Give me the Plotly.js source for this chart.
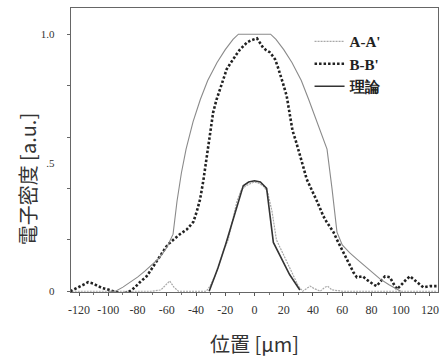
<!DOCTYPE html>
<html>
<head>
<meta charset="utf-8">
<script src="https://cdn.plot.ly/plotly-3.0.1.min.js"></script>
<style>html,body{margin:0;padding:0;background:#fff;}#chart{width:442px;height:362px;}</style>
</head>
<body>
<div id="chart"></div>
<script>
// B-B' measured (dotted)
const bbX = [-126,-122,-119,-116,-113.8,-110.4,-107,-104,-101,-98,-95.5,-93,-90.9,-88.5,-86.3,-84,-81.8,-78.4,-76,-73.8,-71.5,-69.2,-67,-64.6,-62.3,-60,-58,-55.7,-53.4,-51,-48.7,-46.4,-44,-41.8,-39.5,-37.2,-35,-32.7,-30.5,-28.3,-26,-23.6,-21.3,-19,-16.8,-14.7,-12.3,-10,-7.5,-5.1,-2.5,0,1.7,3.8,5.8,8,10.4,12.2,14,15.7,17.4,19.7,22,24,26,28,30,32.8,35.7,38,40.2,42.5,44.8,47,49.3,51.6,54,56.2,58.5,60.8,63.2,65.5,67.7,70,72,74,76.5,79,81.2,83.5,86.3,89.2,91,92.6,95,97.4,99.6,101.8,104,106.4,108.7,111,113.3,115.5,118,120,122.3,124.5];
const bbY = [0.0,0.01,0.02,0.028,0.035,0.03,0.02,0.012,0.008,0.002,-0.004,-0.007,-0.01,-0.007,-0.004,0.005,0.015,0.035,0.046,0.058,0.077,0.097,0.116,0.136,0.156,0.176,0.188,0.2,0.211,0.222,0.231,0.24,0.255,0.27,0.31,0.358,0.43,0.52,0.61,0.695,0.745,0.786,0.826,0.864,0.884,0.903,0.922,0.94,0.955,0.968,0.976,0.981,0.984,0.966,0.948,0.938,0.93,0.917,0.903,0.877,0.85,0.805,0.76,0.696,0.625,0.59,0.553,0.495,0.436,0.41,0.384,0.353,0.323,0.293,0.27,0.25,0.23,0.203,0.176,0.15,0.125,0.099,0.073,0.054,0.056,0.058,0.046,0.035,0.027,0.02,0.04,0.058,0.056,0.054,0.03,0.008,0.02,0.035,0.047,0.058,0.046,0.035,0.025,0.015,0.018,0.02,0.02,0.02];

// A-A' measured (light gray)
const aaX = [-125,-70,-64,-60,-58,-55,-52,-40,-33,-30.4,-27,-24,-21,-18,-15,-12,-9,-6,-3,0,3,6,9,12,15,18,21,24,27,30,33,36,38,41,45,48,50,53,60,125];
const aaY = [0,0,0.005,0.03,0.04,0.015,0,0,0,0.02,0.06,0.11,0.16,0.2,0.27,0.35,0.395,0.41,0.418,0.425,0.42,0.41,0.385,0.31,0.2,0.165,0.125,0.09,0.055,0.02,0.0,0.01,0.02,0.01,0.0,0.015,0.02,0.005,0,0];

// Theory, narrow profile
const thNX = [-31,-25,-19.7,-14,-10,-7.7,-4,0,4,8.3,12.9,18,24,31];
const thNY = [0,0.09,0.183,0.29,0.37,0.41,0.425,0.43,0.425,0.4,0.19,0.13,0.065,0.005];

// Theory, wide profile
const thWX = [-100,-95,-90,-85,-80,-75,-70,-65,-60,-55.7,-53,-50,-46.8,-42,-37,-32,-25.6,-20,-14.7,-11,0,11,14.7,20,25.6,32,37,42,46,49.6,53,56.4,60,65,70,75,80,86,92,97,100];
const thWY = [0,0,0.016,0.035,0.055,0.078,0.103,0.13,0.17,0.222,0.35,0.46,0.553,0.66,0.747,0.82,0.89,0.94,0.98,1.0,1.0,1.0,0.98,0.94,0.89,0.82,0.747,0.67,0.6,0.553,0.4,0.23,0.18,0.15,0.125,0.1,0.075,0.047,0.025,0.008,0];

const xTicks = [-120,-100,-80,-60,-40,-20,0,20,40,60,80,100,120];
const xTickText = ['-120','-100','-80','-60','-40','-20','0','20','40','60','80','100','120'];
const yTicks = [0,0.5,1.0];
const yTickText = ['0','.5','1.0'];

const serif = '"Liberation Serif", "DejaVu Serif", serif';
const cjk = '"Noto Sans CJK JP", "Noto Sans CJK SC", sans-serif';

const traces = [
  {x: aaX, y: aaY, mode: 'lines', name: "<b>A-A'</b>", line: {color: '#a8a8a8', width: 1.2, dash: '2px,1px'}},
  {x: bbX, y: bbY, mode: 'lines', name: "<b>B-B'</b>", line: {color: '#222', width: 2.6, dash: '2.5px,2px'}},
  {x: thWX, y: thWY, mode: 'lines', name: '理論', legendgroup: 'th', showlegend: false, line: {color: '#8a8a8a', width: 1.1}},
  {x: thNX, y: thNY, mode: 'lines', name: '<b>理論</b>', legendgroup: 'th', line: {color: '#333', width: 1.6}}
];

const layout = {
  width: 442, height: 362,
  margin: {l: 71, r: 4, t: 8, b: 70},
  paper_bgcolor: '#fff', plot_bgcolor: '#fff',
  showlegend: true,
  legend: {x: 0.65, y: 0.94, xanchor: 'left', yanchor: 'top', bgcolor: 'rgba(0,0,0,0)',
           font: {family: serif, size: 15, color: '#222'}, tracegroupgap: 0, itemwidth: 30},
  xaxis: {
    range: [-125.5, 125.5], tickmode: 'array', tickvals: xTicks, ticktext: xTickText,
    ticks: 'outside', ticklen: 3, tickcolor: '#555',
    minor: {dtick: 10, tick0: 0, ticks: 'outside', ticklen: 2, tickcolor: '#777'},
    showline: true, mirror: true, linecolor: '#666', linewidth: 1.2,
    showgrid: false, zeroline: false,
    tickfont: {family: serif, size: 12, color: '#333'},
    ticklabelstandoff: 3,
    title: {text: '位置 [μm]', font: {family: cjk, size: 20, color: '#333'}, standoff: 22}
  },
  yaxis: {
    range: [-0.003, 1.102], tickmode: 'array', tickvals: yTicks, ticktext: yTickText,
    ticks: '', ticklen: 0,
    minor: {dtick: 0.2, tick0: 0, ticks: 'outside', ticklen: 3, tickcolor: '#666'},
    showline: true, mirror: true, linecolor: '#666', linewidth: 1.2,
    showgrid: false, zeroline: false,
    tickfont: {family: serif, size: 11, color: '#333'},
    ticklabelstandoff: 13
  },
  annotations: [
    {text: '電子密度 [a.u.]', xref: 'paper', yref: 'paper', x: -0.12, y: 0.4,
     xanchor: 'center', yanchor: 'middle', textangle: -90, showarrow: false,
     font: {family: cjk, size: 20, color: '#333'}}
  ]
};

Plotly.newPlot('chart', traces, layout, {staticPlot: true, displayModeBar: false});
</script>
</body>
</html>
